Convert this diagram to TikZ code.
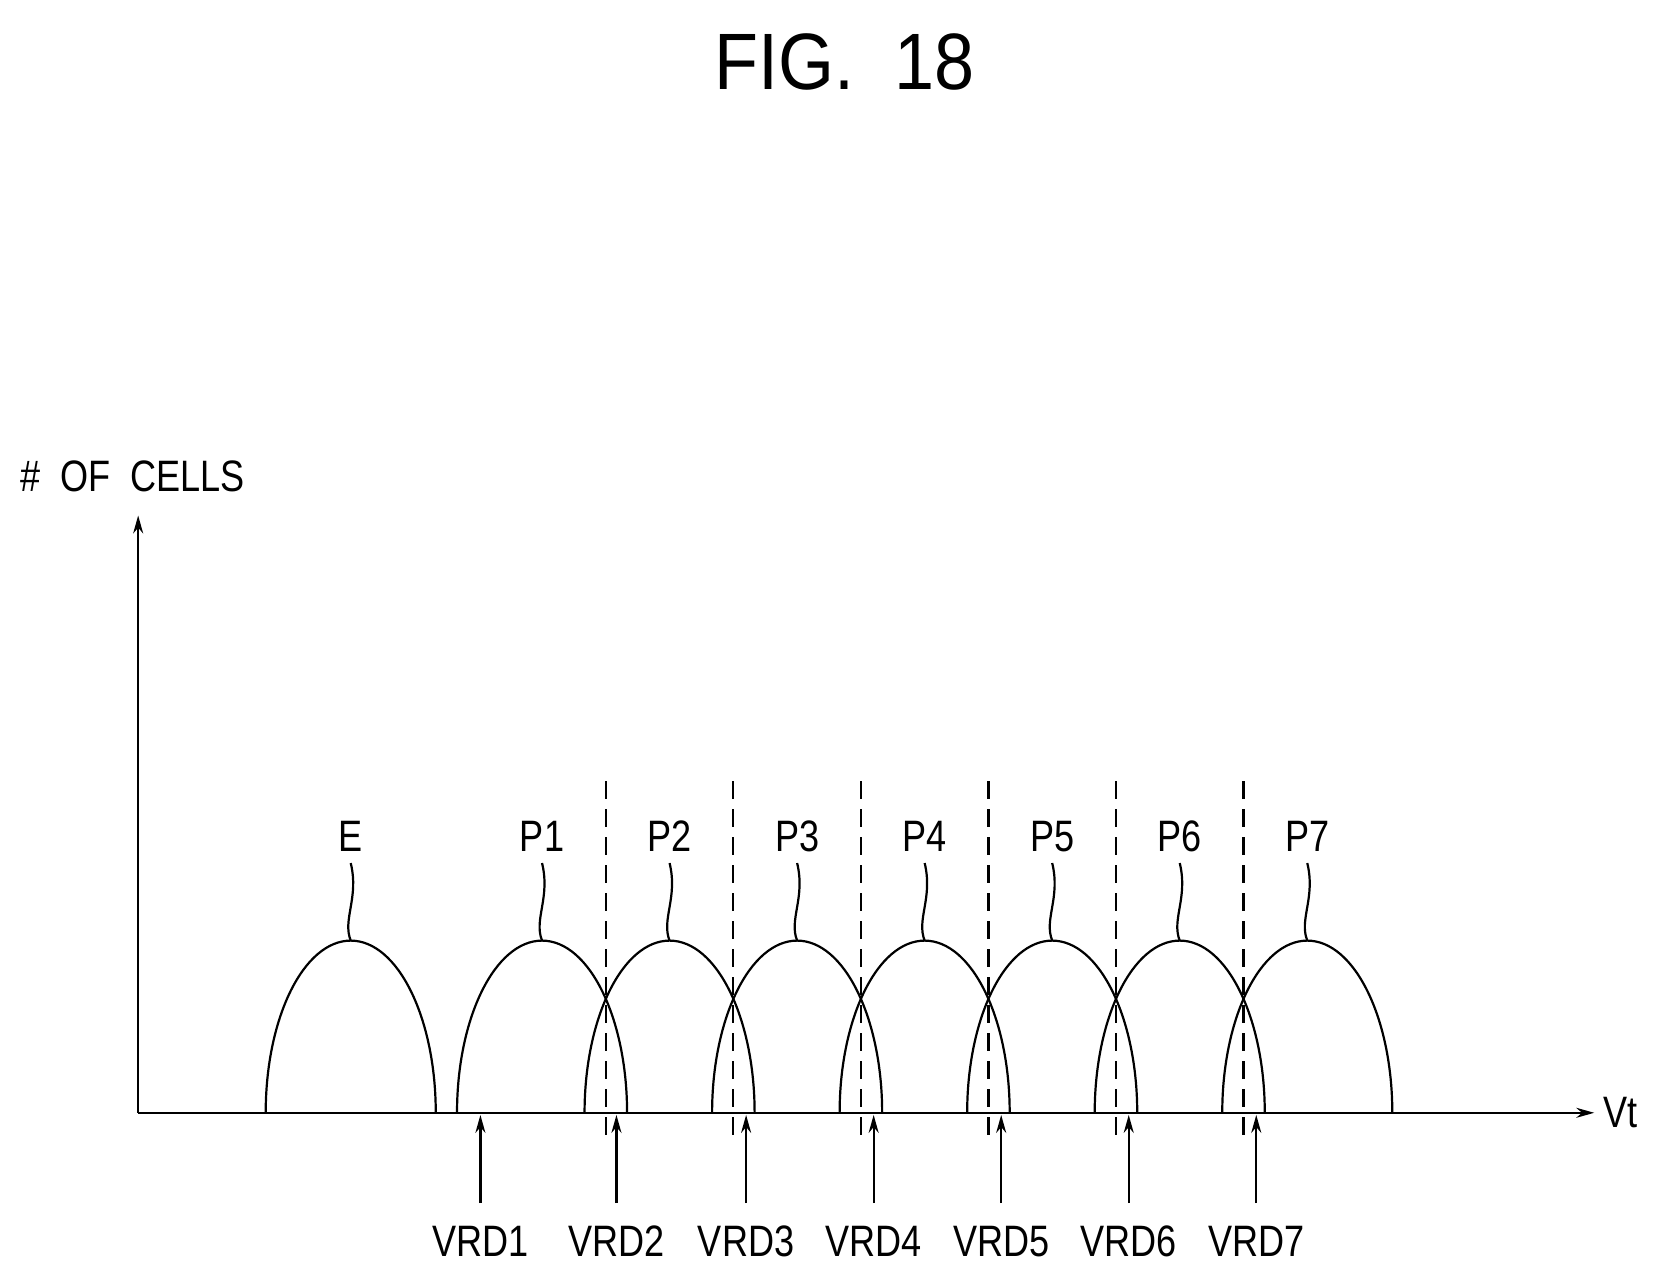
\documentclass[tikz,border=0pt]{standalone}
\usepackage{fontspec}
\setmainfont{Liberation Sans}
\usetikzlibrary{arrows.meta}
\begin{document}
\begin{tikzpicture}[x=0.5315pt,y=-0.5315pt,line width=1.1pt,
  lbl/.style={font=\fontsize{22}{24}\selectfont,inner sep=0pt,xscale=0.82},
  tip/.style={-{Stealth[length=9pt,width=5pt,open]}},
  sep/.style={dashed,dash pattern=on 9pt off 5pt}]
\useasboundingbox (0,0) rectangle (1560,1202.6);
\node[font=\fontsize{40}{44}\selectfont,xscale=0.9] (title) at (795,58) {FIG.\ \ 18};
\node[lbl,anchor=west] (ylab) at (18,448) {\# \ OF \ CELLS};
\coordinate (O) at (130,1047);
\coordinate (Ytop) at (130,485);
\coordinate (Xend) at (1500,1047);
\draw[tip] (O) -- (Ytop);
\draw[tip] (O) -- (Xend);
\node[lbl,anchor=west] (vt) at (1508,1047) {Vt};
% E
\draw (250,1047) arc[start angle=180,end angle=360,x radius=80,y radius=162];
\node[lbl] (lE) at (330,787) {E};
\draw (330,885) .. controls (322,865) and (338,845) .. (330,812);
\foreach \k in {1,...,7}{
  \pgfmathsetmacro\c{510+120*(\k-1)}
  \draw (\c-80,1047) arc[start angle=180,end angle=360,x radius=80,y radius=162];
  \node[lbl] (lP\k) at (\c,787) {P\k};
  \draw (\c,885) .. controls (\c-8,865) and (\c+8,845) .. (\c,812);
}
\foreach \k in {2,...,7}{
  \pgfmathsetmacro\d{570+120*(\k-2)}
  \draw[sep] (\d,735) -- (\d,1068);
}
\foreach \k/\x in {1/452,2/580,3/702,4/822,5/942,6/1062,7/1182}{
  \coordinate (a\k) at (\x,1132);
  \coordinate (b\k) at (\x,1049);
  \draw[tip] (a\k) -- (b\k);
  \node[lbl] (v\k) at (\x,1168) {VRD\k};
}
\end{tikzpicture}
\end{document}
